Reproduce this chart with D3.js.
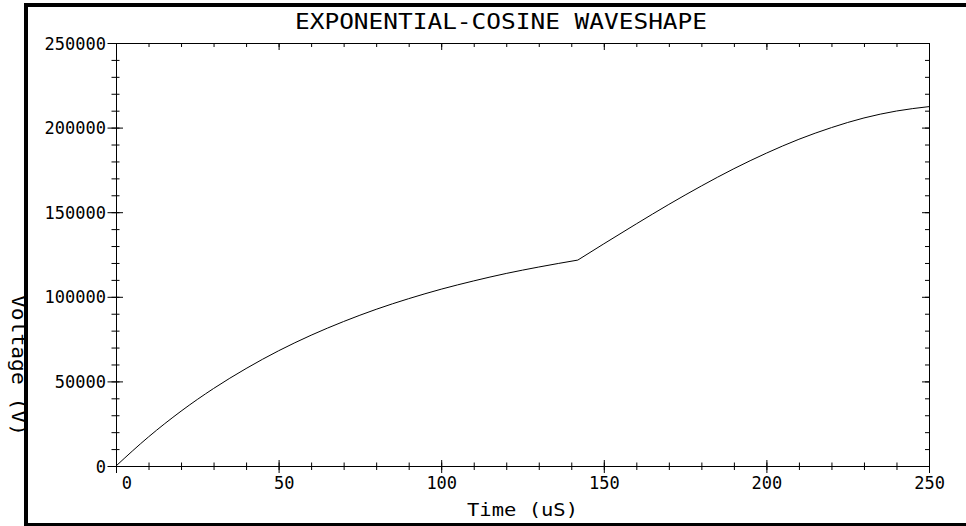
<!DOCTYPE html>
<html>
<head>
<meta charset="utf-8">
<script src="https://cdn.jsdelivr.net/npm/d3@7"></script>
<style>
  body { margin: 0; background: #fff; }
  svg { display: block; }
  text { font-family: "DejaVu Sans Mono", monospace; fill: #000; }
</style>
</head>
<body>
<svg width="966" height="526"></svg>
<script>
// waveform: rising exponential up to the switch at ~142 us,
// then a cosine-like rise to the end of the window
const timeA = [0, 10, 20, 30, 40, 50, 60, 70, 80, 90, 100, 110, 120, 130, 142];
const voltA = [0, 17200, 32400, 45800, 57600, 68100, 77300, 85400, 92600, 98900, 104500, 109400, 113800, 117600, 121700];
const timeB = [142, 150, 160, 170, 180, 190, 200, 210, 220, 230, 240, 250];
const voltB = [121700, 131300, 143100, 154600, 165500, 175700, 184900, 193100, 200000, 205700, 209800, 212400];

const xMajor = [0, 50, 100, 150, 200, 250];
const yMajor = [0, 50000, 100000, 150000, 200000, 250000];
const xMinor = d3.range(0, 251, 10);
const yMinor = d3.range(0, 250001, 10000);

const title = "EXPONENTIAL-COSINE WAVESHAPE";
const xTitle = "Time (uS)";
const yTitle = "Voltage (V)";

let svg = d3.select("svg");

const pLeft = 116, pRight = 929, pTop = 43, pBottom = 466;

let x = d3.scaleLinear().domain([0, 250]).range([pLeft, pRight]);
let y = d3.scaleLinear().domain([0, 250000]).range([pBottom, pTop]);

// window frame (cut off on the right)
svg.append("rect").attr("x", 24).attr("y", 3).attr("width", 942).attr("height", 4).attr("fill", "#000");
svg.append("rect").attr("x", 24).attr("y", 3).attr("width", 4).attr("height", 523).attr("fill", "#000");
svg.append("rect").attr("x", 24).attr("y", 523).attr("width", 942).attr("height", 3).attr("fill", "#000");

// plot box
svg.append("rect")
    .attr("x", pLeft + 0.5).attr("y", pTop + 0.5)
    .attr("width", pRight - pLeft).attr("height", pBottom - pTop)
    .attr("fill", "none").attr("stroke", "#000").attr("stroke-width", 1);

function ticks(axis, values, size, g, fix) {
  let s = svg.append("g")
      .attr("transform", g)
      .call(axis.tickValues(values).tickSize(size).tickSizeOuter(0).tickFormat(""));
  s.select(".domain").remove();
  s.selectAll("line").attr("stroke", "#000");
  if (fix) fix(s.selectAll("line"));
  return s;
}

// bottom: crossing ticks
ticks(d3.axisBottom(x), xMinor, 4, `translate(0,${pBottom})`, l => l.attr("y1", -3.5).attr("y2", 4));
let xb = ticks(d3.axisBottom(x), xMajor, 7, `translate(0,${pBottom})`, l => l.attr("y1", -6).attr("y2", 7));
xb.selectAll(".tick").append("text")
    .text(d => d)
    .attr("x", 15.4)
    .attr("y", 23)
    .attr("text-anchor", "end")
    .attr("font-size", 17);

// top: inward ticks
ticks(d3.axisBottom(x), xMinor, 4, `translate(0,${pTop})`);
ticks(d3.axisBottom(x), xMajor, 7, `translate(0,${pTop})`);

// left: crossing ticks
ticks(d3.axisLeft(y), yMinor, 4, `translate(${pLeft},0)`, l => l.attr("x1", 3.5).attr("x2", -4.5));
let yl = ticks(d3.axisLeft(y), yMajor, 8, `translate(${pLeft},0)`, l => l.attr("x1", 7).attr("x2", -8.5));
yl.selectAll(".tick").append("text")
    .text(d => d)
    .attr("x", -10)
    .attr("dy", "0.36em")
    .attr("text-anchor", "end")
    .attr("font-size", 17);

// right: inward ticks
ticks(d3.axisLeft(y), yMinor, 4, `translate(${pRight},0)`);
ticks(d3.axisLeft(y), yMajor, 7, `translate(${pRight},0)`);

// curve
let line = d3.line()
    .x(d => x(d[0]))
    .y(d => y(d[1]))
    .curve(d3.curveMonotoneX);

[[timeA, voltA], [timeB, voltB]].forEach(([t, v]) => {
  svg.append("path")
      .datum(t.map((tt, i) => [tt, v[i]]))
      .attr("d", line)
      .attr("fill", "none")
      .attr("stroke", "#000")
      .attr("stroke-width", 1);
});

// titles
svg.append("text")
    .text(title)
    .attr("x", 295)
    .attr("y", 28.5)
    .attr("font-size", 21)
    .attr("textLength", 412)
    .attr("lengthAdjust", "spacingAndGlyphs");

svg.append("text")
    .text(xTitle)
    .attr("x", 467)
    .attr("y", 516)
    .attr("font-size", 18)
    .attr("textLength", 111)
    .attr("lengthAdjust", "spacingAndGlyphs");

svg.append("text")
    .text(yTitle)
    .attr("transform", "translate(12,295) rotate(90)")
    .attr("font-size", 19)
    .attr("textLength", 141)
    .attr("lengthAdjust", "spacingAndGlyphs");
</script>
</body>
</html>
